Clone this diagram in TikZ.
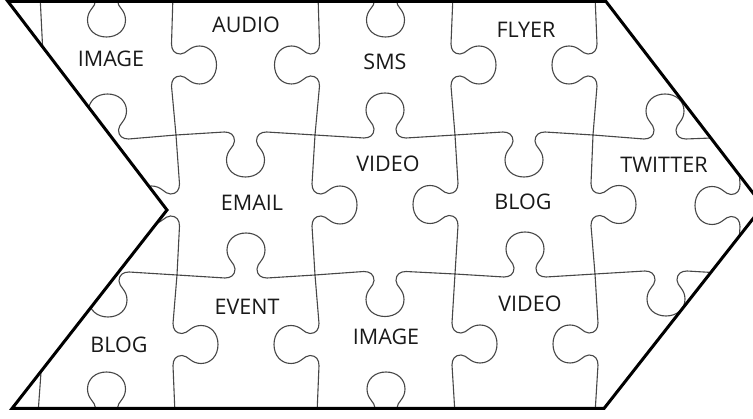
\documentclass[tikz,border=0pt]{standalone}
\usepackage{fontspec}
\setmainfont{Open Sans}
\usetikzlibrary{calc}
\tikzset{
  pz/.style={draw=black!72, line width=1.1pt, line join=round, line cap=round},
  chev/.style={draw=black, line width=3pt, line join=miter},
  lbl/.style={font=\fontsize{21.5}{25}\selectfont, text=black!90, inner sep=0pt},
}
% generic knob edge: #1 start corner, #2 end corner, #3 local transform
\newcommand\knob[3]{%
  \begin{scope}[shift={($(#1)!0.5!(#2)$)},#3]
    \draw[pz] (#1) -- (-21,-3) .. controls (-15,-3) and (-11,0) .. (-11,6)
      .. controls (-11,12) and (-19,15) .. (-19,25)
      .. controls (-19,35) and (-11,42) .. (0,42)
      .. controls (11,42) and (19,35) .. (19,25)
      .. controls (19,15) and (11,12) .. (11,6)
      .. controls (11,0) and (15,-3) .. (21,-3) -- (#2);
  \end{scope}}
\newcommand\hD[2]{\knob{#1}{#2}{}}
\newcommand\hU[2]{\knob{#1}{#2}{yscale=-1}}
\newcommand\vL[2]{\knob{#1}{#2}{rotate=-90}}
\newcommand\vR[2]{\knob{#1}{#2}{xscale=-1,rotate=-90}}
\begin{document}
\begin{tikzpicture}[x=1pt,y=-1pt]
\useasboundingbox (0,0) rectangle (753,419);
\fill[white] (0,0) rectangle (753,419);
% chevron outline corners
\coordinate (tl) at (8,1.5);
\coordinate (nt) at (167,210);
\coordinate (bl) at (12,408.5);
\coordinate (br) at (604,408.5);
\coordinate (tp) at (763,206);
\coordinate (tr) at (606,1.5);
% grid corners c<i><j>: column boundary i, row boundary j
\coordinate (c00) at (40,-5);  \coordinate (c10) at (173,-5);
\coordinate (c20) at (318,-5); \coordinate (c30) at (453,-5);
\coordinate (c40) at (595,-5); \coordinate (c50) at (737,-5);
\coordinate (c01) at (39,137); \coordinate (c11) at (176,135);
\coordinate (c21) at (315,135); \coordinate (c31) at (455,135);
\coordinate (c41) at (593,135); \coordinate (c51) at (737,137);
\coordinate (c02) at (39,275); \coordinate (c12) at (177,275);
\coordinate (c22) at (315,275); \coordinate (c32) at (455,274);
\coordinate (c42) at (595,274); \coordinate (c52) at (737,274);
\coordinate (c03) at (38,414); \coordinate (c13) at (175,414);
\coordinate (c23) at (317,414); \coordinate (c33) at (455,414);
\coordinate (c43) at (595,414); \coordinate (c53) at (737,414);
\begin{scope}
\clip (tl) -- (nt) -- (bl) -- (br) -- (tp) -- (tr) -- cycle;
% horizontal edges
\hD{c00}{c10}\hU{c10}{c20}\hD{c20}{c30}\hU{c30}{c40}\hD{c40}{c50}
\hU{c01}{c11}\hD{c11}{c21}\hU{c21}{c31}\hD{c31}{c41}\hU{c41}{c51}
\hD{c02}{c12}\hU{c12}{c22}\hD{c22}{c32}\hU{c32}{c42}\hD{c42}{c52}
\hU{c03}{c13}\hD{c13}{c23}\hU{c23}{c33}\hD{c33}{c43}\hU{c43}{c53}
% vertical edges
\vL{c00}{c01}\vR{c10}{c11}\vL{c20}{c21}\vR{c30}{c31}\vL{c40}{c41}\vR{c50}{c51}
\vR{c01}{c02}\vL{c11}{c12}\vR{c21}{c22}\vL{c31}{c32}\vR{c41}{c42}\vL{c51}{c52}
\vL{c02}{c03}\vR{c12}{c13}\vL{c22}{c23}\vR{c32}{c33}\vL{c42}{c43}\vR{c52}{c53}
\end{scope}
\draw[chev] (tl) -- (nt) -- (bl) -- (br) -- (tp) -- (tr) -- cycle;
% labels
\node[lbl] (l1) at (111,59) {IMAGE};
\node[lbl] (l2) at (246,25) {AUDIO};
\node[lbl] (l3) at (385,62) {SMS};
\node[lbl] (l4) at (526,30) {FLYER};
\node[lbl] (l5) at (252,203) {EMAIL};
\node[lbl] (l6) at (388,164) {VIDEO};
\node[lbl] (l7) at (523,202) {BLOG};
\node[lbl] (l8) at (664,165) {TWITTER};
\node[lbl] (l9) at (119,345) {BLOG};
\node[lbl] (l10) at (247,307) {EVENT};
\node[lbl] (l11) at (386,337) {IMAGE};
\node[lbl] (l12) at (530,304) {VIDEO};
\end{tikzpicture}
\end{document}
